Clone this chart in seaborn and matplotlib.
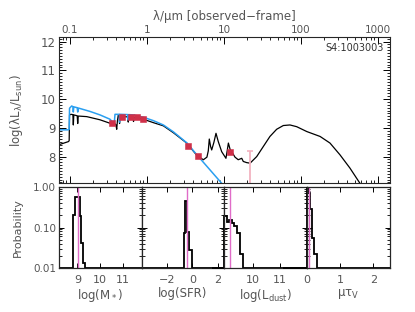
import matplotlib
matplotlib.use('Agg')
import matplotlib.pyplot as plt
from matplotlib import ticker
import numpy as np
import seaborn as sns

# Modele SED : noir = total (attenue + poussiere), bleu = stellaire non attenue
wave_tot = [0.0713, 0.0951, 0.0975, 0.0986, 0.103, 0.109, 0.1104, 0.112,
            0.124, 0.1259, 0.128, 0.165, 0.245, 0.330, 0.384, 0.395, 0.404,
            0.413, 0.424, 0.436, 0.44, 0.445, 0.492, 0.565, 0.571, 0.577,
            0.664, 0.668, 0.672, 0.895, 1.21, 1.63, 2.20, 3.28, 4.51, 5.40,
            6.0, 6.25, 6.44, 6.70, 6.92, 7.4, 7.87, 8.43, 9.33, 10.6, 11.0,
            11.4, 12.0, 12.6, 13.9, 15.3, 17.0, 17.8, 19.7, 21.8, 26.6, 32.4,
            39.5, 48.3, 58.9, 71.9, 87.9, 119, 177, 238, 321, 432, 583, 708]
logl_tot = [8.41, 8.52, 8.55, 9.45, 9.47, 9.46, 9.10, 9.45,
            9.42, 9.15, 9.41, 9.39, 9.28, 9.16, 9.14, 9.10, 8.95,
            9.25, 9.45, 9.43, 9.15, 9.42, 9.39, 9.38, 9.20, 9.38,
            9.37, 9.22, 9.36, 9.30, 9.18, 9.07, 8.83, 8.47, 8.02, 7.89,
            7.98, 8.20, 8.61, 8.35, 8.23, 8.50, 8.81, 8.52, 8.17, 7.94, 8.20,
            8.47, 8.25, 8.17, 7.98, 7.89, 7.94, 7.83, 7.79, 7.77, 8.00, 8.35,
            8.70, 8.95, 9.08, 9.10, 9.04, 8.87, 8.70, 8.47, 8.06, 7.60, 7.07,
            6.70]

wave_star = [0.0713, 0.0951, 0.0975, 0.0986, 0.105, 0.109, 0.1104, 0.112,
             0.124, 0.1259, 0.128, 0.182, 0.245, 0.330, 0.365, 0.375, 0.384,
             0.436, 0.44, 0.445, 0.565, 0.571, 0.577, 0.664, 0.895, 1.21,
             1.63, 2.20, 3.28, 4.51, 9.33, 10.5]
logl_star = [8.93, 8.93, 8.95, 9.68, 9.76, 9.74, 9.55, 9.73,
             9.70, 9.55, 9.69, 9.57, 9.45, 9.30, 9.18, 9.15, 9.47,
             9.47, 9.20, 9.47, 9.46, 9.28, 9.46, 9.45, 9.37, 9.25,
             9.10, 8.86, 8.48, 8.04, 7.07, 6.90]

# Photometrie observee
wave_obs = [0.355, 0.469, 0.617, 0.748, 0.893, 3.4, 4.6, 12.0]
logl_obs = [9.16, 9.39, 9.37, 9.36, 9.31, 8.37, 8.03, 8.17]
wave_lim = [22.0]
logl_lim = [8.21]

# Distributions de probabilite (histogrammes)
mstar_edges = [8.17, 8.80, 8.89, 8.99, 9.09, 9.16, 9.24, 9.32, 11.83]
mstar_prob = [0, 0.2, 0.58, 0.58, 0.19, 0.042, 0.013, 0]
mstar_best = 9.01

sfr_edges = [-4.0, -0.65, -0.55, -0.41, -0.27, -0.04, 2.5]
sfr_prob = [0, 0.074, 0.46, 0.079, 0.028, 0]
sfr_best = -0.45

ldust_edges = [8.5, 8.96, 9.06, 9.15, 9.24, 9.33, 9.42, 9.53, 9.65, 12.0]
ldust_prob = [0, 0.195, 0.135, 0.15, 0.13, 0.11, 0.072, 0.022, 0]
ldust_best = 9.17

tauv_edges = [-0.73, 0.0, 0.06, 0.09, 0.15, 0.21, 0.31, 2.5]
tauv_prob = [0, 0.95, 0.7, 0.28, 0.055, 0.022, 0]
tauv_best = 0.065

PMIN = 0.01
GREY = '#555555'
PINK = '#e06cc8'

sns.set_style('ticks')
plt.rcParams['font.family'] = ['DejaVu Sans']
plt.rcParams['mathtext.default'] = 'regular'

W, H = 415, 312
fig = plt.figure(figsize=(W / 100, H / 100), dpi=100)

# Panneau principal
x0, x1, ytop, ybot = 58.7, 390, 37.3, 183.3
ax = fig.add_axes([x0 / W, (H - ybot) / H, (x1 - x0) / W, (ybot - ytop) / H])
sns.lineplot(x=wave_tot, y=logl_tot, ax=ax, color='black', lw=0.9,
             estimator=None, sort=False)
sns.lineplot(x=wave_star, y=logl_star, ax=ax, color='#2a9ff0', lw=1.1,
             estimator=None, sort=False)
ax.errorbar(wave_lim, logl_lim, yerr=[[2.0], [0.0]], fmt='none',
            ecolor='#f2b3c0', elinewidth=1.3, capsize=2.5, capthick=1.2)
sns.scatterplot(x=wave_obs, y=logl_obs, ax=ax, marker='s', s=22,
                color='#cf3049', edgecolor='#cf3049', linewidth=0.4, zorder=5)

ax.set_xscale('log')
ax.set_xlim(0.0713, 1432)
ax.set_ylim(7.07, 12.15)
ax.xaxis.set_major_locator(ticker.LogLocator(base=10))
ax.xaxis.set_minor_locator(ticker.LogLocator(base=10, subs=np.arange(2, 10)))
ax.xaxis.set_major_formatter(ticker.FuncFormatter(lambda v, _: '%g' % v))
ax.xaxis.set_minor_formatter(ticker.NullFormatter())
ax.yaxis.set_major_locator(ticker.MultipleLocator(1))
ax.yaxis.set_minor_locator(ticker.MultipleLocator(0.1))
ax.tick_params(which='both', direction='in', top=True, bottom=True,
               left=True, right=True, labeltop=True, labelbottom=False,
               colors='black', labelcolor=GREY)
ax.tick_params(which='major', length=5, width=0.7)
ax.tick_params(which='minor', length=2.5, width=0.6)
ax.tick_params(axis='x', labelsize=7.5, pad=2)
ax.tick_params(axis='y', labelsize=8.5, pad=2)
ax.xaxis.set_label_position('top')
ax.set_xlabel('λ/μm [observed−frame]', fontsize=8.5, color=GREY, labelpad=3)
ax.set_ylabel('log(λL$_λ$/L$_{sun}$)', fontsize=8.5, color=GREY)
ax.yaxis.set_label_coords(-0.102, 0.5)
ax.text(0.98, 0.925, 'S4:1003003', transform=ax.transAxes, ha='right',
        va='center', fontsize=7, color='#333333')
for sp in ax.spines.values():
    sp.set_linewidth(0.8)

# Histogrammes
panels = [
    (mstar_edges, mstar_prob, mstar_best, (8.17, 11.83), [9, 10, 11],
     'log(M$_*$)'),
    (sfr_edges, sfr_prob, sfr_best, (-4.0, 2.5), [-2, 0, 2], 'log(SFR)'),
    (ldust_edges, ldust_prob, ldust_best, (8.97, 12.0), [10, 11],
     'log(L$_{dust}$)'),
    (tauv_edges, tauv_prob, tauv_best, (0.0, 2.5), [0, 1, 2],
     'μτ$_V$'),
]
pw = (x1 - x0) / 4
htop, hbot = 187, 268
for i, (edges, prob, best, xlim, xt, lab) in enumerate(panels):
    hx = fig.add_axes([(x0 + i * pw) / W, (H - hbot) / H, pw / W,
                       (hbot - htop) / H])
    hx.axvline(best, color=PINK, lw=1.0)
    hx.stairs(np.clip(prob, PMIN, None), edges, baseline=None,
              color='black', lw=1.3, clip_on=False)
    hx.set_yscale('log')
    hx.set_ylim(PMIN, 1.0)
    hx.set_xlim(*xlim)
    hx.set_xticks(xt)
    hx.set_xticklabels([str(t).replace('-', '−') for t in xt])
    hx.yaxis.set_major_locator(ticker.LogLocator(base=10))
    hx.yaxis.set_minor_locator(
        ticker.LogLocator(base=10, subs=np.arange(2, 10)))
    hx.yaxis.set_minor_formatter(ticker.NullFormatter())
    hx.tick_params(which='both', direction='in', top=True, bottom=True,
                   left=True, right=True, colors='black', labelcolor=GREY)
    hx.tick_params(which='major', length=3.5, width=0.7)
    hx.tick_params(which='minor', length=2, width=0.6)
    hx.tick_params(axis='x', labelsize=8, pad=5)
    if i == 0:
        hx.yaxis.set_major_formatter(
            ticker.FuncFormatter(lambda v, _: '%.2f' % v))
        hx.tick_params(axis='y', labelsize=7.5, pad=2)
        hx.set_ylabel('Probability', fontsize=8, color=GREY)
        hx.yaxis.set_label_coords(-0.43, 0.5)
    else:
        hx.yaxis.set_major_formatter(ticker.NullFormatter())
    hx.set_xlabel(lab, fontsize=8.5, color=GREY, labelpad=1.5)
    for sp in hx.spines.values():
        sp.set_linewidth(0.9)

fig.savefig('out.png', dpi=100)
